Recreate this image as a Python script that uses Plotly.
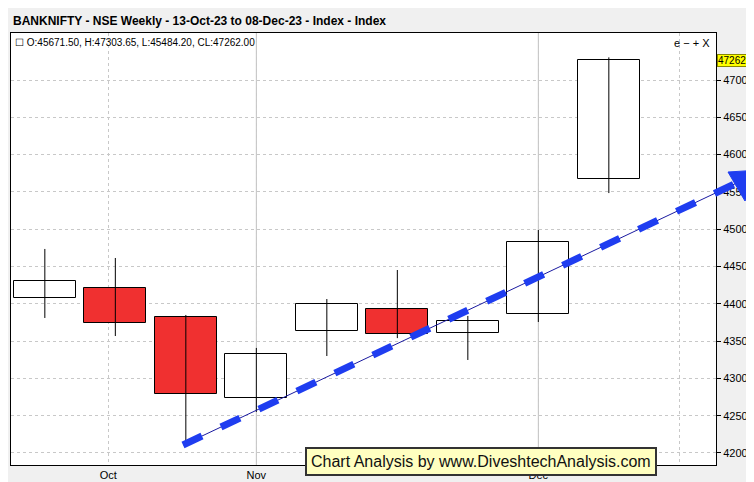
import plotly.graph_objects as go

# weekly candles, 13-Oct-23 .. 08-Dec-23
weeks = [0, 1, 2, 3, 4, 5, 6, 7, 8]
opens = [44080, 44212, 43823, 42737, 43635, 43930, 43609, 43863, 45671.50]
highs = [44735, 44614, 43850, 43408, 44064, 44453, 43837, 44989, 47303.65]
lows = [43810, 43568, 42107, 42550, 43300, 43540, 43247, 43756, 45484.20]
closes = [44300, 43743, 42791, 43327, 43997, 43595, 43770, 44828, 47262.00]

month_ticks = [0.9, 3.0, 7.0, 9.0]
month_labels = ["Oct", "Nov", "Dec", ""]
price_ticks = [42000, 42500, 43000, 43500, 44000, 44500, 45000, 45500, 46000, 46500, 47000]

fig = go.Figure()

# wicks
wx, wy = [], []
for x, h, l in zip(weeks, highs, lows):
    wx += [x, x, None]
    wy += [l, h, None]
fig.add_trace(go.Scatter(x=wx, y=wy, mode="lines", line=dict(color="black", width=1),
                         showlegend=False, hoverinfo="skip"))

# bodies
fig.add_trace(go.Bar(
    x=weeks,
    base=[min(o, c) for o, c in zip(opens, closes)],
    y=[abs(c - o) for o, c in zip(opens, closes)],
    width=0.88,
    marker=dict(color=["white" if c >= o else "#f03030" for o, c in zip(opens, closes)],
                line=dict(color="black", width=1)),
    showlegend=False, hoverinfo="skip"))


def px(x, y):
    return (x - 3) / 705, (457 - y) / 432


# trend arrow
x0, y0 = px(175, 437)
x1, y1 = px(735, 172)
fig.add_shape(type="line", xref="paper", yref="paper", x0=x0, y0=y0, x1=x1, y1=y1,
              line=dict(color="#1a1aa0", width=1))
fig.add_shape(type="line", xref="paper", yref="paper", x0=x0, y0=y0, x1=x1, y1=y1,
              line=dict(color="#1f3df0", width=7, dash="dash"))
a = px(752, 162)
b = px(720, 164)
c = px(737, 193)
fig.add_shape(type="path", xref="paper", yref="paper",
              path=f"M{a[0]},{a[1]} L{b[0]},{b[1]} L{c[0]},{c[1]} Z",
              fillcolor="#1f3df0", line=dict(color="#1f3df0", width=1))

fig.update_layout(
    width=754, height=482,
    margin=dict(l=3, r=46, t=25, b=25),
    paper_bgcolor="#f0f0f0", plot_bgcolor="white",
    font=dict(family="Liberation Sans, Arial", size=11, color="black"),
    bargap=0,
    xaxis=dict(range=[-0.48, 9.52], tickvals=month_ticks, ticktext=month_labels, ticks="",
               showgrid=True, gridcolor="#c8c8c8", griddash="dot", zeroline=False,
               showline=True, linecolor="black", mirror=True),
    yaxis=dict(range=[41839, 47630], side="right", tickvals=price_ticks, tickformat="d",
               ticks="outside", ticklen=4, tickcolor="black",
               showgrid=True, gridcolor="#c8c8c8", griddash="dot", zeroline=False,
               showline=True, linecolor="black", mirror=True),
)
# solid month separators
for xv in [3.0, 7.0]:
    fig.add_shape(type="line", xref="x", yref="paper", x0=xv, x1=xv, y0=0, y1=1,
                  line=dict(color="#c0c0c0", width=1), layer="below")

fig.add_annotation(xref="paper", yref="paper", x=0, y=1 + 12 / 432, xanchor="left", yanchor="middle",
                   text="<b>BANKNIFTY - NSE Weekly - 13-Oct-23 to 08-Dec-23 - Index - Index</b>",
                   showarrow=False, font=dict(size=12, family="Liberation Sans Narrow, Arial"))
fig.add_annotation(xref="paper", yref="paper", x=0.003, y=0.995, xanchor="left", yanchor="top",
                   text="☐ O:45671.50, H:47303.65, L:45484.20, CL:47262.00",
                   showarrow=False, font=dict(size=10))
fig.add_annotation(xref="paper", yref="paper", x=0.995, y=0.995, xanchor="right", yanchor="top",
                   text="e − + X", showarrow=False, font=dict(size=11))
fig.add_annotation(xref="paper", y=closes[-1], yref="y", x=1.002, xanchor="left",
                   text=f"{closes[-1]:.0f}", showarrow=False, bgcolor="#ffff00",
                   bordercolor="#888800", borderwidth=1, borderpad=0, font=dict(size=10))
fig.add_annotation(xref="paper", yref="paper", x=(473 - 3) / 705, y=(457 - 453) / 432,
                   xanchor="center", yanchor="middle",
                   text="Chart Analysis by www.DiveshtechAnalysis.com", showarrow=False,
                   bgcolor="#ffffc0", bordercolor="#333333", borderwidth=2, borderpad=4,
                   font=dict(size=16, family="Liberation Sans, Arial", color="#111111"))

fig.write_html("out.html")
